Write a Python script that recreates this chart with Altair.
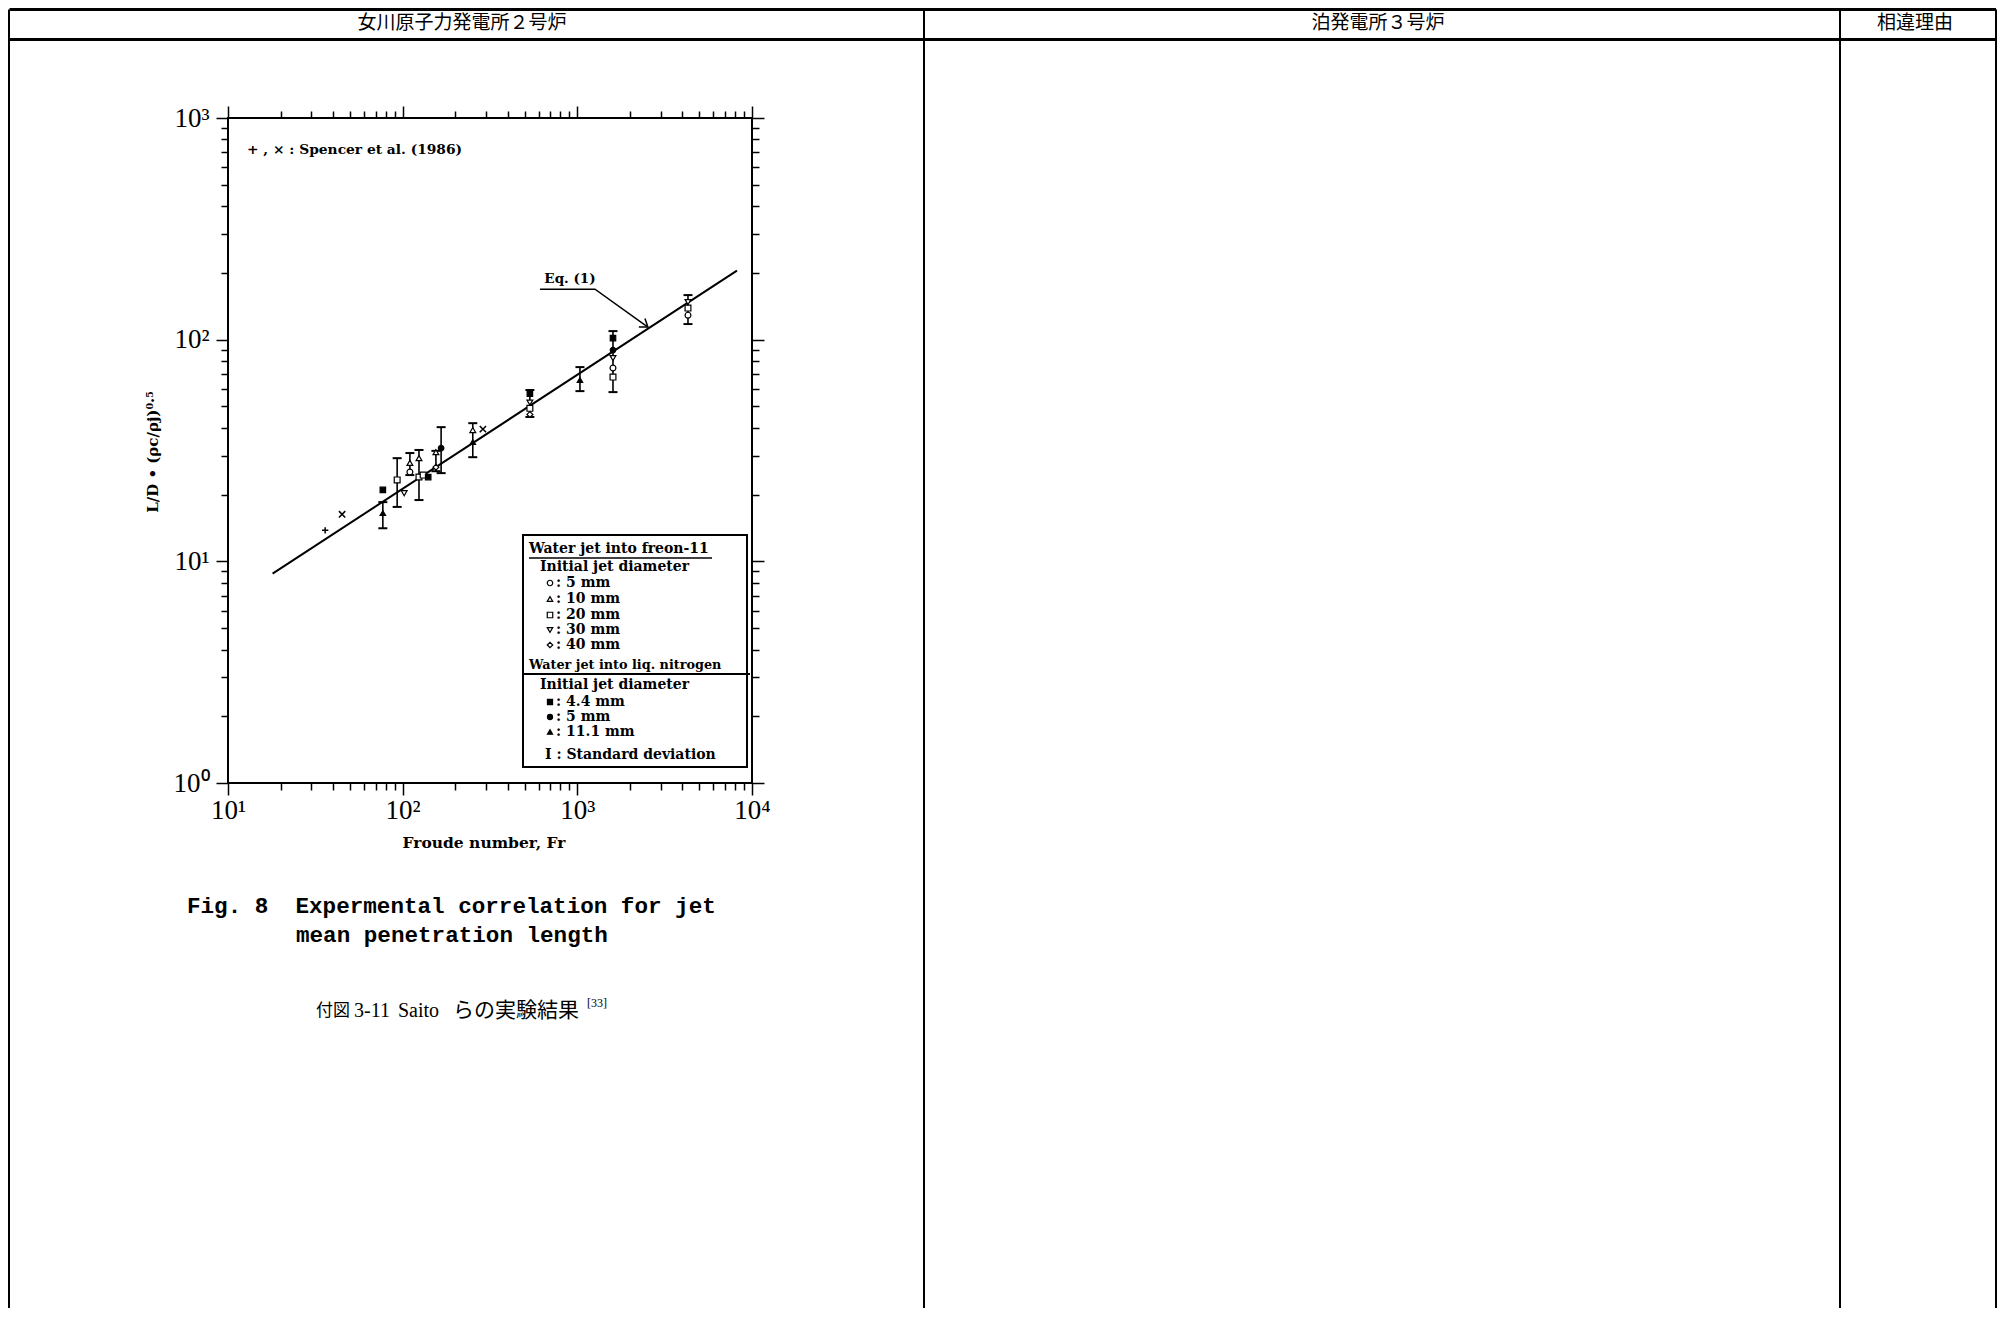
import altair as alt
import pandas as pd

# ---------------- data ----------------
# Eq. (1) correlation line end points
eq_fr = [18, 8200]
eq_ld = [8.8, 205]

# error bars (standard deviation)
eb_fr = [77, 93, 110, 124, 155, 166, 252, 535, 1035, 1600, 4300]
eb_lo = [14.1, 17.6, 24.5, 18.9, 25.5, 25.0, 29.5, 44.8, 58.6, 58.0, 117.6]
eb_hi = [18.5, 29.2, 30.8, 31.8, 31.5, 40.3, 42.0, 59.3, 75.2, 109.3, 158.9]

# markers per series
s_circle_fr = [110, 1600, 4300]
s_circle_ld = [25.3, 74.5, 129]
s_tri_fr = [110, 124, 155, 252]
s_tri_ld = [27.8, 29.2, 31.1, 39.1]
s_sq_fr = [93, 124, 131, 535, 1600, 4300]
s_sq_ld = [23.3, 24.0, 24.5, 49, 67.8, 138.8]
s_itri_fr = [102, 535, 1600, 4300]
s_itri_ld = [20.3, 52, 82.6, 147.8]
s_dia_fr = [155, 535]
s_dia_ld = [26.6, 46]
s_fsq_fr = [77, 140, 535, 1600]
s_fsq_ld = [21, 24, 57, 101.7]
s_fcirc_fr = [166, 1600]
s_fcirc_ld = [32.4, 89.8]
s_ftri_fr = [77, 252, 1035]
s_ftri_ld = [16.5, 34.5, 65.7]
s_plus_fr = [36]
s_plus_ld = [13.8]
s_x_fr = [45, 288]
s_x_ld = [16.3, 39.5]

# Eq.(1) pointer (underline + arrow)
ptr_fr = [611, 1262, 2535]
ptr_ld = [169, 169, 114]

x_major = [10, 100, 1000, 10000]
y_major = [1, 10, 100, 1000]
x_labels = ["10\u00b9", "10\u00b2", "10\u00b3", "10\u2074"]
y_labels = ["10\u2070", "10\u00b9", "10\u00b2", "10\u00b3"]
x_ticks = sorted(set([m * k for m in [10, 100, 1000] for k in range(1, 10)] + [10000]))
y_ticks = sorted(set([m * k for m in [1, 10, 100] for k in range(1, 10)] + [1000]))

header_texts = ["女川原子力発電所２号炉", "泊発電所３号炉", "相違理由"]

# ---------------- layout (page pixels) ----------------
OX, OY = 228, 118        # plot area origin on the page
W, H = 524, 665          # plot area size


def px(x):
    return x - OX


def py(y):
    return y - OY


blank = pd.DataFrame({"z": [0]})


def rule(x1, y1, x2, y2, w):
    return alt.Chart(blank).mark_rule(color="black", strokeWidth=w).encode(
        x=alt.value(px(x1)), x2=alt.value(px(x2)),
        y=alt.value(py(y1)), y2=alt.value(py(y2)))


def text(s, x, y, size, font, weight="normal", align="left", angle=0):
    return alt.Chart(blank).mark_text(
        text=s, font=font, fontSize=size, fontWeight=weight, align=align,
        baseline="middle", angle=angle, color="black").encode(
        x=alt.value(px(x)), y=alt.value(py(y)))


def sym(shape, x, y, filled, size=30):
    return alt.Chart(blank).mark_point(
        shape=shape, size=size, fill="black" if filled else "white",
        stroke="black", strokeWidth=1.2, opacity=1, fillOpacity=1).encode(
        x=alt.value(px(x)), y=alt.value(py(y)))


def lab_expr(vals, labs):
    e = "''"
    for v, l in reversed(list(zip(vals, labs))):
        e = f"datum.value == {v} ? '{l}' : ({e})"
    return e


def tick_size(major):
    return {"condition": {"test": f"indexof({major}, datum.value) >= 0", "value": 12},
            "value": 7}


xs = alt.Scale(type="log", domain=[10, 10000], nice=False)
ys = alt.Scale(type="log", domain=[1, 1000], nice=False)

common_x = dict(values=x_ticks, domain=False, grid=False, title="", tickColor="black",
                tickWidth=1.5, tickSize=tick_size(x_major))
common_y = dict(values=y_ticks, domain=False, grid=False, title="", tickColor="black",
                tickWidth=1.5, tickSize=tick_size(y_major))

ax_bottom = alt.Axis(orient="bottom", labelExpr=lab_expr(x_major, x_labels),
                     labelFont="Liberation Serif", labelFontSize=27, labelColor="black",
                     labelPadding=2, labelFlush=False, labelOverlap=False, labelAngle=0,
                     labelBound=False, **common_x)
ax_top = alt.Axis(orient="top", labels=False, **common_x)
ax_left = alt.Axis(orient="left", labelExpr=lab_expr(y_major, y_labels),
                   labelFont="Liberation Serif", labelFontSize=27, labelColor="black",
                   labelPadding=7, labelOverlap=False, labelBound=False, **common_y)
ax_right = alt.Axis(orient="right", labels=False, **common_y)

eq_df = pd.DataFrame({"fr": eq_fr, "ld": eq_ld})
eb_df = pd.DataFrame({"fr": eb_fr, "lo": eb_lo, "hi": eb_hi})
ptr_df = pd.DataFrame({"fr": ptr_fr, "ld": ptr_ld})

series = [
    ("circle", s_circle_fr, s_circle_ld, False, 34),
    ("triangle-up", s_tri_fr, s_tri_ld, False, 34),
    ("square", s_sq_fr, s_sq_ld, False, 34),
    ("triangle-down", s_itri_fr, s_itri_ld, False, 34),
    ("diamond", s_dia_fr, s_dia_ld, False, 34),
    ("square", s_fsq_fr, s_fsq_ld, True, 30),
    ("circle", s_fcirc_fr, s_fcirc_ld, True, 30),
    ("triangle-up", s_ftri_fr, s_ftri_ld, True, 30),
    ("M-1,0L1,0M0,-1L0,1", s_plus_fr, s_plus_ld, None, 40),
    ("M-1,-1L1,1M-1,1L1,-1", s_x_fr, s_x_ld, None, 40),
]

layers = []

# page table
L, R = 9.5, 1996
BOT = 1308
layers += [
    rule(L, 9.5, R, 9.5, 3),
    rule(L, 39.5, R, 39.5, 3),
    rule(9, 9.5, 9, BOT, 2),
    rule(924, 9.5, 924, BOT, 2),
    rule(1840, 9.5, 1840, BOT, 2),
    rule(R, 9.5, R, BOT, 2),
    text(header_texts[0], 462, 23, 19, "Noto Sans CJK JP", align="center"),
    text(header_texts[1], 1378, 23, 19, "Noto Sans CJK JP", align="center"),
    text(header_texts[2], 1915, 23, 19, "Noto Sans CJK JP", align="center"),
]

# data layers
layers.append(
    alt.Chart(eq_df).mark_line(color="black", strokeWidth=2).encode(
        x=alt.X("fr:Q", scale=xs, axis=ax_bottom),
        y=alt.Y("ld:Q", scale=ys, axis=ax_left)))
layers.append(
    alt.Chart(eb_df).mark_rule(color="black", strokeWidth=1.6).encode(
        x=alt.X("fr:Q", scale=xs, axis=ax_top),
        y=alt.Y("lo:Q", scale=ys, axis=ax_right), y2="hi:Q"))
for fld in ["lo", "hi"]:
    layers.append(
        alt.Chart(eb_df).mark_tick(color="black", orient="horizontal", size=9,
                                   thickness=2, opacity=1).encode(
            x=alt.X("fr:Q", scale=xs, axis=None),
            y=alt.Y(f"{fld}:Q", scale=ys, axis=None)))

for shape, frs, lds, filled, size in series:
    df = pd.DataFrame({"fr": frs, "ld": lds})
    if filled is None:
        mk = alt.Chart(df).mark_point(shape=shape, size=size, filled=False, color="black",
                                      strokeWidth=1.5, opacity=1)
    else:
        mk = alt.Chart(df).mark_point(shape=shape, size=size,
                                      fill="black" if filled else "white", stroke="black",
                                      strokeWidth=1.2, opacity=1, fillOpacity=1)
    layers.append(mk.encode(x=alt.X("fr:Q", scale=xs, axis=None),
                            y=alt.Y("ld:Q", scale=ys, axis=None)))

# Eq.(1) pointer
layers.append(
    alt.Chart(ptr_df).mark_line(color="black", strokeWidth=1.5).encode(
        x=alt.X("fr:Q", scale=xs, axis=None), y=alt.Y("ld:Q", scale=ys, axis=None)))
layers.append(
    alt.Chart(ptr_df.tail(1)).mark_point(shape="M-1,-0.7L0,0L-1,0.7", size=220, filled=False,
                                         color="black", strokeWidth=1.5, opacity=1,
                                         angle=36).encode(
        x=alt.X("fr:Q", scale=xs, axis=None), y=alt.Y("ld:Q", scale=ys, axis=None)))

SERIF = "DejaVu Serif"
LS = 14
layers += [
    text("Eq. (1)", 570, 279, 13.5, SERIF, "bold", "center"),
    text("+ , \u00d7 : Spencer et al. (1986)", 247, 150, 13.8, SERIF, "bold"),
]

# legend box
layers.append(
    alt.Chart(blank).mark_rect(fill="white", stroke="black", strokeWidth=2).encode(
        x=alt.value(px(523)), x2=alt.value(px(747)),
        y=alt.value(py(535)), y2=alt.value(py(767))))
layers += [
    rule(529, 558, 712, 558, 1.5),
    rule(523, 674, 750, 674, 2),
    text("Water jet into freon-11", 529, 549, LS, SERIF, "bold"),
    text("Initial jet diameter", 540, 567, LS, SERIF, "bold"),
    sym("circle", 550, 583, False), text(": 5 mm", 556, 583, LS, SERIF, "bold"),
    sym("triangle-up", 550, 599, False), text(": 10 mm", 556, 599, LS, SERIF, "bold"),
    sym("square", 550, 615, False), text(": 20 mm", 556, 615, LS, SERIF, "bold"),
    sym("triangle-down", 550, 630, False), text(": 30 mm", 556, 630, LS, SERIF, "bold"),
    sym("diamond", 550, 645, False), text(": 40 mm", 556, 645, LS, SERIF, "bold"),
    text("Water jet into liq. nitrogen", 529, 665, 12.8, SERIF, "bold"),
    text("Initial jet diameter", 540, 685, LS, SERIF, "bold"),
    sym("square", 550, 702, True, 26), text(": 4.4 mm", 556, 702, LS, SERIF, "bold"),
    sym("circle", 550, 717, True, 26), text(": 5 mm", 556, 717, LS, SERIF, "bold"),
    sym("triangle-up", 550, 732, True, 26), text(": 11.1 mm", 556, 732, LS, SERIF, "bold"),
    text("I : Standard deviation", 545, 755, LS, SERIF, "bold"),
]

# axis titles and captions
layers += [
    text("Froude number, Fr", 484, 843, 15.5, SERIF, "bold", "center"),
    text("L/D \u2022 (\u03c1c/\u03c1j)\u2070\u00b7\u2075", 153, 452, 15, SERIF, "bold", "center", 270),
    text("Fig. 8 \u00a0Expermental correlation for jet", 187, 906, 22.6, "Liberation Mono", "bold"),
    text("mean penetration length", 296, 935, 22.6, "Liberation Mono", "bold"),
    text("付図", 316, 1011, 17, "Noto Sans CJK JP"),
    text("3-11", 354, 1011, 20, "Liberation Serif"),
    text("Saito", 398, 1011, 20, "Liberation Serif"),
    text("らの実験結果", 453, 1011, 21, "Noto Sans CJK JP"),
    text("[33]", 587, 1003, 12, "Liberation Serif"),
]

chart = alt.layer(*layers).properties(
    width=W, height=H, padding=0, background="white"
).resolve_axis(x="independent", y="independent").configure_view(
    stroke="black", strokeWidth=2)

chart.save("out.html", embed_options={"renderer": "svg", "actions": False})
